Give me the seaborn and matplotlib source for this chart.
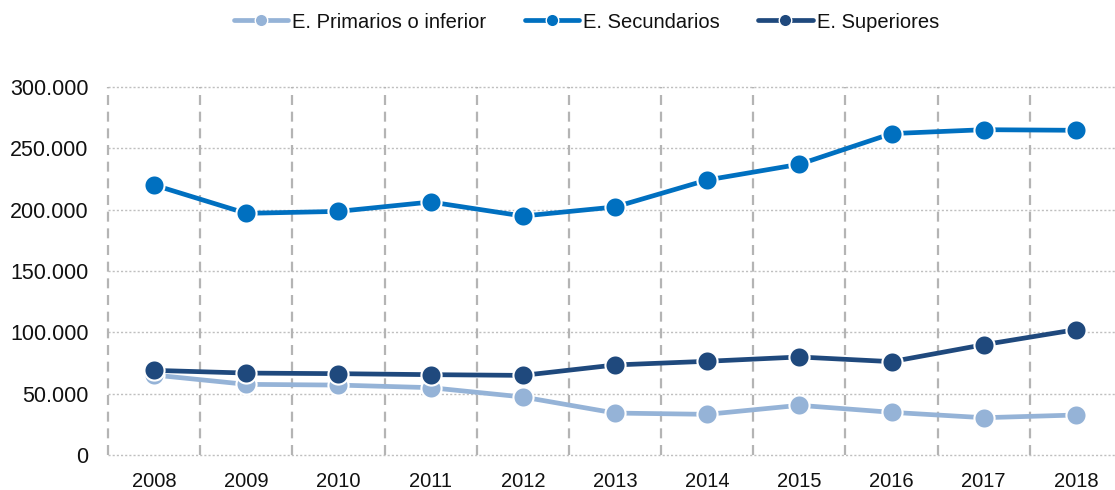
import matplotlib
matplotlib.use("Agg")
import matplotlib.pyplot as plt
from matplotlib.lines import Line2D
from matplotlib.ticker import FuncFormatter, MultipleLocator
import seaborn as sns
import pandas as pd
import numpy as np

years = ["2008", "2009", "2010", "2011", "2012", "2013", "2014", "2015", "2016", "2017", "2018"]
primarios = [65200, 57600, 57000, 54900, 47300, 34200, 33150, 40500, 34800, 30400, 32600]
secundarios = [220100, 197000, 198600, 206250, 194800, 202200, 224200, 237000, 262000, 265200, 264700]
superiores = [69000, 66800, 66300, 65500, 64900, 73400, 76400, 79900, 76100, 89900, 102200]
series_names = ["E. Primarios o inferior", "E. Secundarios", "E. Superiores"]
colors = ["#95B3D7", "#0070C0", "#1F497D"]

sns.set_theme(style="white")
plt.rcParams["font.family"] = ["Liberation Sans", "DejaVu Sans"]

df = pd.DataFrame({
    "year": years * 3,
    "value": primarios + secundarios + superiores,
    "serie": [series_names[0]] * 11 + [series_names[1]] * 11 + [series_names[2]] * 11,
})

fig = plt.figure(figsize=(11.15, 4.9), dpi=100)
W, H = 1115, 490
ax = fig.add_axes([108 / W, (H - 455) / H, (1122 - 108) / W, (455 - 87) / H])

sns.lineplot(data=df, x="year", y="value", hue="serie", palette=colors,
             hue_order=series_names, marker="o", markersize=14.5,
             markeredgecolor="white", markeredgewidth=1.5, linewidth=3.4,
             ax=ax, legend=False, sort=False, zorder=5)

ax.set_xlim(-0.5, 10.5)
ax.set_ylim(0, 300000)
ax.yaxis.set_major_locator(MultipleLocator(50000))
ax.yaxis.set_major_formatter(FuncFormatter(lambda v, p: f"{int(v):,}".replace(",", ".")))
ax.set_xlabel("")
ax.set_ylabel("")
for s in ax.spines.values():
    s.set_visible(False)

# horizontal dotted gridlines
for v in np.arange(0, 300001, 50000):
    ax.axhline(v, color="#BFBFBF", linestyle=(0, (1.5, 1.5)), linewidth=1.0, zorder=1, clip_on=False)
# vertical dashed category separators
for xb in np.arange(-0.5, 10.6, 1):
    ax.axvline(xb, color="#B4B4B4", linestyle=(0, (4.5, 3)), linewidth=1.6, zorder=1, clip_on=False)

ax.tick_params(axis="both", length=0, colors="#111111")
ax.tick_params(axis="x", pad=12, labelsize=14.5)
ax.tick_params(axis="y", pad=14, labelsize=15.5)

handles = [Line2D([0], [0], color=c, linewidth=3.4, marker="o", markersize=9,
                  markeredgecolor="white", markeredgewidth=1) for c in colors]
fig.legend(handles, series_names, loc="center", bbox_to_anchor=(0.526, 1 - 22 / H),
           ncol=3, frameon=False, fontsize=14.5, handlelength=2.7, handletextpad=0.2,
           columnspacing=1.9, labelcolor="#111111")

fig.savefig("out.png", dpi=100)
